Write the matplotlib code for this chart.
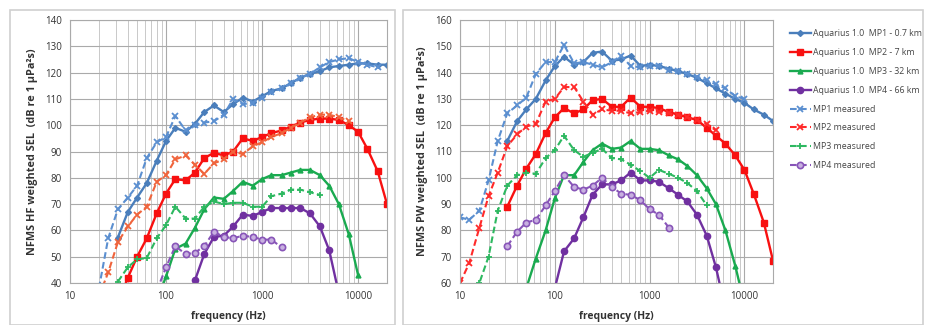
import matplotlib
matplotlib.use("Agg")
import matplotlib.pyplot as plt
from matplotlib.patches import Rectangle
from matplotlib.ticker import LogLocator, FixedLocator, NullFormatter

plt.rcParams['font.family'] = ['Open Sans', 'DejaVu Sans']

bands = [10, 12.5, 16, 20, 25, 31.5, 40, 50, 63, 80, 100, 125, 160, 200, 250, 315, 400,
         500, 630, 800, 1000, 1250, 1600, 2000, 2500, 3150, 4000, 5000, 6300, 8000,
         10000, 12500, 16000, 20000]

def sub(f0, f1):
    i0 = bands.index(f0); i1 = bands.index(f1)
    return bands[i0:i1 + 1]

# ---------- Left panel: HF weighted ----------
hf_mp1_model_f = sub(31.5, 20000)
hf_mp1_model = [57.3, 67, 72.5, 78, 86.5, 94, 99, 97.5, 100.5, 105, 107.5, 105, 108, 110.5, 109,
                111, 113, 114, 116, 118, 119.5, 120.5, 122, 122.5, 123, 123.5, 123.5, 123, 123]
hf_mp1_meas_f = sub(20, 16000)
hf_mp1_meas = [38, 57, 68, 72.5, 77, 87.5, 93.5, 95.5, 103.5, 98, 100, 101, 101.5, 104, 110, 108,
               108.5, 110.5, 112.5, 114, 116, 118, 119.5, 122, 124, 125, 125.5, 124, 123, 122]
hf_mp2_model_f = sub(31.5, 20000)
hf_mp2_model = [32, 42, 50, 57, 66.5, 74, 79.5, 79, 82, 87.5, 89.5, 88.5, 90, 95, 94, 95.5, 97,
                98, 99.5, 101, 102, 102.5, 102.5, 102, 100, 97.5, 91, 82.5, 70]
hf_mp2_meas_f = sub(20, 8000)
hf_mp2_meas = [35, 44, 55.5, 61.5, 66, 69, 78.5, 81, 87, 88.5, 85, 81.5, 85.5, 87, 90, 89, 92,
               93.5, 95.5, 97, 99, 101, 103, 104, 104, 103, 101.5]
hf_mp3_model_f = sub(80, 10000)
hf_mp3_model = [33, 42.5, 53, 55, 61, 68, 72.5, 72, 75, 78.5, 77, 79.5, 81, 81, 82, 83, 83, 81,
                77, 70, 58.5, 43]
hf_mp3_meas_f = sub(31.5, 4000)
hf_mp3_meas = [40.5, 46, 49, 49.5, 57, 62, 69, 64.5, 64.5, 69, 71, 70, 70.5, 70.5, 69, 69, 73,
               74, 75.5, 75.5, 74.5, 73.5]
hf_mp4_model_f = sub(200, 6300)
hf_mp4_model = [41, 51, 57.5, 58, 61.5, 66, 65.5, 67, 68.5, 68.5, 68.5, 68.5, 66.5, 61.5, 52.5, 36]
hf_mp4_meas_f = sub(80, 1600)
hf_mp4_meas = [37, 46, 54, 51, 51.5, 54, 59.5, 57.5, 57, 58, 57.5, 56.5, 56.5, 53.5]

# ---------- Right panel: PW weighted ----------
pw_mp1_model_f = sub(31.5, 20000)
pw_mp1_model = [114, 121.5, 126, 130, 137, 142.5, 146, 143, 144, 147.5, 148, 144.5, 145, 146.5,
                142.5, 143, 142.5, 141.5, 140.5, 139.5, 138, 136, 134, 132, 130, 128.5, 126,
                124, 121.6]
pw_mp1_meas_f = sub(10, 10000)
pw_mp1_meas = [85, 84, 87.5, 99, 114, 124.5, 127.5, 130.5, 139.5, 144, 144, 150.5, 143.5, 144,
               143, 142, 144, 146.5, 142.5, 142, 142.5, 142.5, 141, 140.5, 139.5, 138.5, 137,
               135.5, 134, 131, 130]
pw_mp2_model_f = sub(31.5, 20000)
pw_mp2_model = [89, 97, 103.5, 109, 117, 123, 126.5, 124.5, 126, 129.5, 130, 127, 127, 130.5,
                127, 127, 126.5, 125, 124, 123, 122, 119, 116, 113, 108.5, 103, 94, 83, 68.5]
pw_mp2_meas_f = sub(10, 5000)
pw_mp2_meas = [60, 67.5, 81, 93, 102, 112, 116.5, 119.5, 120.5, 129, 130, 134.5, 134.5, 129,
               124, 126, 125.5, 125.5, 124.5, 125, 125.5, 125, 124.5, 124, 123, 122, 120.5, 118]
pw_mp3_model_f = sub(40, 10000)
pw_mp3_model = [52, 58, 69.3, 80, 92.2, 101, 101, 106, 110.5, 113, 111, 111.5, 114, 111, 111,
                110.5, 108.5, 107, 104.5, 101, 96, 90, 80, 66.5, 52]
pw_mp3_meas_f = sub(12.5, 4000)
pw_mp3_meas = [50, 60, 70, 87.5, 97, 101, 102, 101.5, 107.5, 110.5, 116, 110.5, 108, 109.5, 111,
               107.5, 107, 105, 102.5, 100, 103, 101.5, 100, 98, 95, 89.5]
pw_mp4_model_f = sub(80, 6300)
pw_mp4_model = [48, 58, 72, 77, 85, 93.5, 97.5, 97.5, 99, 102, 99, 99, 98.5, 96, 93.5, 91, 86,
                78, 66, 50]
pw_mp4_meas_f = sub(31.5, 1600)
pw_mp4_meas = [74, 79.5, 83, 84, 89.5, 95, 101, 96.5, 95.5, 97, 100, 96.5, 94, 93.5, 91.5, 88,
               86, 81]

labels = ["Aquarius 1.0  MP1 - 0.7 km", "Aquarius 1.0  MP2 - 7 km",
          "Aquarius 1.0  MP3 - 32 km", "Aquarius 1.0  MP4 - 66 km",
          "MP1 measured", "MP2 measured", "MP3 measured", "MP4 measured"]

BLUE = '#4a7ebb'
RED = '#f81010'
GREEN = '#1aaa50'
PURPLE = '#7030a0'
BLUE_M = '#5b8fd0'
RED_M_L = '#f0643c'
RED_M = '#ff2a2a'
GREEN_M = '#2db860'
PURPLE_M = '#8855b8'
DASH = (0, (3.2, 1.6))

fig = plt.figure(figsize=(9.25, 3.25), dpi=100)

# panel frames
fig.patches.append(Rectangle((10 / 925, 0.0), 385 / 925, 1 - 10 / 325, transform=fig.transFigure,
                             fill=False, edgecolor='#d0d0d0', linewidth=1.2))
fig.patches.append(Rectangle((403 / 925, 0.0), 520 / 925, 1 - 10 / 325, transform=fig.transFigure,
                             fill=False, edgecolor='#d0d0d0', linewidth=1.2))

axL = fig.add_axes([70 / 925, 1 - 283 / 325, (387 - 70) / 925, (283 - 20) / 325])
axR = fig.add_axes([460 / 925, 1 - 283 / 325, (773 - 460) / 925, (283 - 20) / 325])


def style(ax, ylo, yhi, ylabel):
    ax.set_xscale('log')
    ax.set_xlim(10, 20000)
    ax.set_ylim(ylo, yhi)
    ax.yaxis.set_major_locator(FixedLocator(list(range(ylo, yhi + 1, 10))))
    ax.xaxis.set_major_locator(FixedLocator([10, 100, 1000, 10000]))
    ax.set_xticklabels(['10', '100', '1000', '10000'])
    ax.xaxis.set_minor_locator(LogLocator(base=10, subs=range(2, 10), numticks=20))
    ax.xaxis.set_minor_formatter(NullFormatter())
    ax.grid(True, which='major', color='#aaaaaa', linewidth=0.8)
    ax.grid(True, which='minor', axis='x', color='#c0c0c0', linewidth=0.6)
    ax.set_axisbelow(True)
    for s in ax.spines.values():
        s.set_color('#aaaaaa')
        s.set_linewidth(0.8)
    ax.tick_params(which='both', length=0, labelsize=7, colors='#333333', pad=6)
    ax.set_xlabel('frequency (Hz)', fontsize=7.5, fontweight='bold', color='#333333', labelpad=6)
    ax.set_ylabel(ylabel, fontsize=7.8, fontweight='bold', color='#333333', labelpad=5)


def draw(ax, data, red_meas):
    (m1f, m1), (m2f, m2), (m3f, m3), (m4f, m4), (s1f, s1), (s2f, s2), (s3f, s3), (s4f, s4) = data
    lines = []
    lines += ax.plot(m1f, m1, '-', color=BLUE, marker='D', ms=3, lw=1.7, label=labels[0])
    lines += ax.plot(m2f, m2, '-', color=RED, marker='s', ms=5, lw=1.7, label=labels[1])
    lines += ax.plot(m3f, m3, '-', color=GREEN, marker='^', ms=3.5, lw=1.7, label=labels[2])
    lines += ax.plot(m4f, m4, '-', color=PURPLE, marker='o', ms=4.5, lw=1.7, label=labels[3])
    lines += ax.plot(s1f, s1, linestyle=DASH, color=BLUE_M, marker='x', ms=4, mew=1.3, lw=1.5, label=labels[4])
    lines += ax.plot(s2f, s2, linestyle=DASH, color=red_meas, marker='x', ms=4, mew=1.3, lw=1.5, label=labels[5])
    lines += ax.plot(s3f, s3, linestyle=DASH, color=GREEN_M, marker='+', ms=4, mew=1.3, lw=1.5, label=labels[6])
    lines += ax.plot(s4f, s4, linestyle=DASH, color=PURPLE_M, marker='o', ms=4.5, mfc='#c8b0e0', mew=1.2,
                     lw=1.5, label=labels[7])
    return lines


style(axL, 40, 140, 'NFMS HF weighted SEL  (dB re 1 \u00b5Pa\u00b2s)')
style(axR, 60, 160, 'NFMS PW weighted SEL  (dB re 1 \u00b5Pa\u00b2s)')

draw(axL, [(hf_mp1_model_f, hf_mp1_model), (hf_mp2_model_f, hf_mp2_model),
           (hf_mp3_model_f, hf_mp3_model), (hf_mp4_model_f, hf_mp4_model),
           (hf_mp1_meas_f, hf_mp1_meas), (hf_mp2_meas_f, hf_mp2_meas),
           (hf_mp3_meas_f, hf_mp3_meas), (hf_mp4_meas_f, hf_mp4_meas)], RED_M_L)
handles = draw(axR, [(pw_mp1_model_f, pw_mp1_model), (pw_mp2_model_f, pw_mp2_model),
                     (pw_mp3_model_f, pw_mp3_model), (pw_mp4_model_f, pw_mp4_model),
                     (pw_mp1_meas_f, pw_mp1_meas), (pw_mp2_meas_f, pw_mp2_meas),
                     (pw_mp3_meas_f, pw_mp3_meas), (pw_mp4_meas_f, pw_mp4_meas)], RED_M)

fig.legend(handles, labels, loc='upper left', bbox_to_anchor=(786 / 925, 1 - 25 / 325),
           frameon=False, fontsize=6.3, handlelength=2.3, labelspacing=1.12, handletextpad=0.3,
           borderpad=0, labelcolor='#444444')

fig.savefig('out.png', dpi=100)
